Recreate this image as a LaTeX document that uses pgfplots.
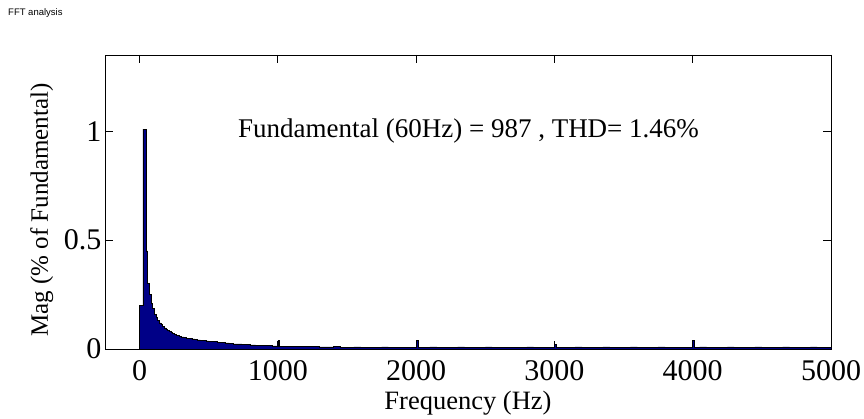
\documentclass[border=0pt]{standalone}
\usepackage{fontspec}
\setmainfont{Liberation Serif}
\newfontfamily\helv{Liberation Sans}
\usepackage{pgfplots}
\pgfplotsset{compat=1.18}
\definecolor{barblue}{RGB}{0,0,135}
\begin{document}
\begin{tikzpicture}
\useasboundingbox (0pt,0pt) rectangle (864pt,419pt);
\node[anchor=west,inner sep=0pt,font=\helv\fontsize{9.5}{10}\selectfont] at (8pt,406pt) {FFT analysis};
\begin{axis}[
  at={(105pt,70pt)}, anchor=south west,
  scale only axis, width=726pt, height=294pt,
  xmin=-250, xmax=5000, ymin=0, ymax=1.35,
  xtick={0,1000,2000,3000,4000,5000}, ytick={0,0.5,1},
  tick align=inside, major tick length=8pt,
  axis line style={line width=0.9pt},
  every tick/.style={line width=0.9pt, black},
  /pgf/number format/assume math mode=true,
  scaled x ticks=false,
  xticklabel style={/pgf/number format/1000 sep={}, yshift=-8pt},
  tick label style={font=\fontsize{30}{30}\selectfont},
  xlabel={Frequency (Hz)}, ylabel={Mag (\% of Fundamental)},
  xlabel style={font=\fontsize{26.5}{26.5}\selectfont, at={(axis description cs:0.5,-0.185)}, anchor=center},
  ylabel style={font=\fontsize{25}{25}\selectfont, at={(axis description cs:-0.087,0.473)}, anchor=center},
  clip=true,
]
\addplot[const plot mark left, fill=barblue, draw=black, line width=0.5pt] coordinates {
(0,0.20) (23,1.01) (47,0.45) (58,0.30) (70,0.25) (82,0.21) (94,0.185) (106,0.16)
(118,0.145) (130,0.13) (142,0.12) (154,0.112) (166,0.104) (178,0.097) (190,0.090)
(202,0.085) (214,0.080) (226,0.075) (238,0.071) (250,0.068) (262,0.064) (274,0.061)
(286,0.059) (300,0.056) (320,0.053) (340,0.050) (360,0.048) (380,0.046) (400,0.044)
(420,0.042) (440,0.041) (460,0.039) (480,0.037) (500,0.036) (530,0.034) (560,0.032)
(590,0.030) (620,0.028) (650,0.026) (680,0.024) (710,0.023) (740,0.022) (770,0.020)
(800,0.019) (840,0.018) (880,0.016) (920,0.015) (960,0.014) (1000,0.040) (1012,0.013)
(1060,0.012) (1100,0.013) (1150,0.011) (1200,0.011) (1250,0.012) (1300,0.010)
(1350,0.010) (1400,0.011) (1450,0.009) (1500,0.009) (1550,0.010) (1600,0.008)
(1650,0.009) (1700,0.008) (1750,0.010) (1800,0.008) (1850,0.009) (1900,0.008)
(1950,0.009) (2000,0.040) (2012,0.009) (2050,0.008) (2100,0.010) (2150,0.008)
(2200,0.009) (2250,0.008) (2300,0.010) (2350,0.008) (2400,0.009) (2450,0.008)
(2500,0.010) (2550,0.008) (2600,0.009) (2650,0.008) (2700,0.009) (2750,0.008)
(2800,0.010) (2850,0.008) (2900,0.009) (2950,0.008) (3000,0.020) (3012,0.008)
(3050,0.009) (3100,0.008) (3150,0.010) (3200,0.008) (3250,0.009) (3300,0.008)
(3350,0.010) (3400,0.008) (3450,0.009) (3500,0.008) (3550,0.010) (3600,0.008)
(3650,0.009) (3700,0.008) (3750,0.010) (3800,0.008) (3850,0.009) (3900,0.008)
(3950,0.009) (4000,0.038) (4012,0.008) (4050,0.010) (4100,0.008) (4150,0.009)
(4200,0.008) (4250,0.010) (4300,0.008) (4350,0.009) (4400,0.008) (4450,0.010)
(4500,0.008) (4550,0.009) (4600,0.008) (4650,0.010) (4700,0.008) (4750,0.009)
(4800,0.008) (4850,0.010) (4900,0.008) (4950,0.009) (5000,0.009)
} \closedcycle;
\node[anchor=west, inner sep=0pt, font=\fontsize{27}{27}\selectfont] at (axis cs:711,1.0) {Fundamental (60Hz) = 987 , THD= 1.46\%};
\end{axis}
\end{tikzpicture}
\end{document}
